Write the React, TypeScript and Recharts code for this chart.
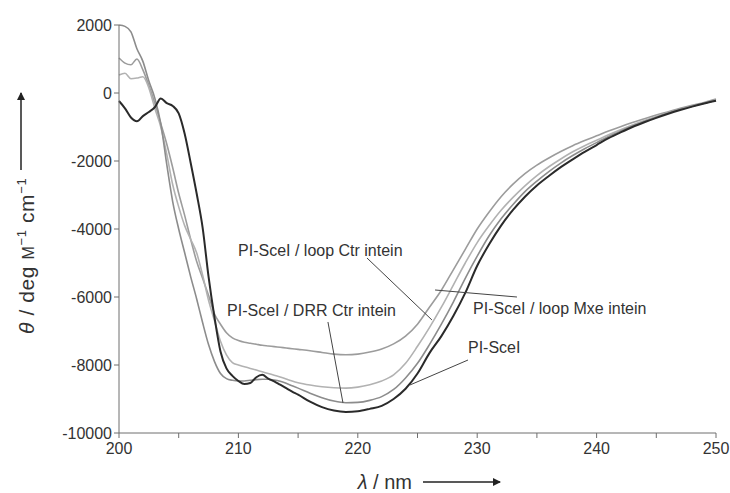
import React from 'react'
import {
  LineChart, Line, XAxis, YAxis, ReferenceLine, ReferenceDot,
} from 'recharts'

// wavelength in nm: 0.5 nm steps up to 215, then 1 nm
const WAVELENGTH = [
  200, 200.5, 201, 201.5, 202, 202.5, 203, 203.5, 204, 204.5, 205, 205.5, 206, 206.5, 207, 207.5,
  208, 208.5, 209, 209.5, 210, 210.5, 211, 211.5, 212, 212.5, 213, 213.5, 214, 214.5, 215,
  216, 217, 218, 219, 220, 221, 222, 223, 224, 225, 226, 227, 228, 229, 230, 231, 232, 233,
  234, 235, 236, 237, 238, 239, 240, 241, 242, 243, 244, 245, 246, 247, 248, 249, 250,
]

const PI_SCEI = [
  -235, -450, -720, -830, -680, -560, -420, -160, -300, -380, -600, -1200, -2050, -2950, -3950, -5400,
  -6600, -7600, -8100, -8320, -8470, -8560, -8530, -8360, -8290, -8400, -8480, -8580, -8680, -8780, -8870,
  -9080, -9240, -9340, -9380, -9360, -9290, -9200, -9000, -8700, -8250, -7650, -7150, -6560, -5880, -5080,
  -4450, -3900, -3440, -3050, -2720, -2440, -2180, -1950, -1730, -1530, -1330, -1160, -1000, -860, -730,
  -610, -500, -400, -310, -230,
]

const DRR_CTR = [
  2000, 1960, 1800, 1300, 930, 350, -150, -900, -2100, -3200, -4000, -4700, -5400, -6050, -6750, -7400,
  -7900, -8250, -8400, -8450, -8470, -8470, -8450, -8430, -8420, -8420, -8440, -8480, -8540, -8610, -8680,
  -8830, -8960, -9060, -9110, -9100, -9040, -8930, -8720, -8380, -7950, -7400, -6800, -6150, -5450, -4800,
  -4200, -3700, -3280, -2900, -2590, -2310, -2060, -1840, -1640, -1460, -1280, -1120, -970, -840, -710,
  -590, -480, -390, -300, -220,
]

const LOOP_CTR = [
  530, 580, 420, 440, 480, 150, -450, -1000, -1800, -2700, -3350, -3900, -4300, -4700, -5350, -6100,
  -6700, -7300, -7700, -7930, -8000, -8050, -8100, -8150, -8200, -8250, -8300, -8350, -8410, -8470, -8520,
  -8590, -8640, -8670, -8680, -8650, -8580, -8470, -8290, -7950, -7450, -6900, -6300, -5650, -5000, -4400,
  -3900, -3450, -3070, -2730, -2430, -2170, -1940, -1730, -1550, -1390, -1230, -1080, -940, -810, -690,
  -580, -480, -390, -300, -220,
]

const LOOP_MXE = [
  1030, 880, 830, 1000, 680, 220, -300, -900, -1500, -2200, -2950, -3600, -4300, -4950, -5450, -5950,
  -6500, -6800, -7050, -7200, -7280, -7330, -7360, -7390, -7420, -7440, -7460, -7480, -7500, -7520, -7540,
  -7580, -7630, -7680, -7700, -7680, -7620, -7530, -7380, -7150, -6800, -6300, -5800, -5200, -4600, -4000,
  -3500, -3050, -2680, -2370, -2120, -1910, -1720, -1550, -1400, -1260, -1120, -990, -870, -760, -650,
  -550, -450, -360, -280, -180,
]

const X_TICKS = [200, 205, 210, 215, 220, 225, 230, 235, 240, 245, 250]
const Y_TICKS = [-10000, -8000, -6000, -4000, -2000, 0, 2000]

// annotation labels (data coords of text start) and their leader lines
const LABELS = [
  { text: 'PI-SceI / loop Ctr intein', x: 209.97, y: -4617 },
  { text: 'PI-SceI / DRR Ctr intein', x: 209.05, y: -6382 },
  { text: 'PI-SceI / loop Mxe intein', x: 229.65, y: -6323 },
  { text: 'PI-SceI', x: 229.23, y: -7470 },
]
const LEADERS = [
  [{ x: 220.77, y: -4853 }, { x: 226.21, y: -6676 }],
  [{ x: 217.5, y: -6735 }, { x: 218.76, y: -9117 }],
  [{ x: 226.47, y: -5794 }, { x: 233.33, y: -6000 }],
  [{ x: 229.23, y: -7853 }, { x: 224.37, y: -8588 }],
]

const data = WAVELENGTH.map((w, i) => ({
  w,
  pi: PI_SCEI[i],
  drr: DRR_CTR[i],
  loopCtr: LOOP_CTR[i],
  loopMxe: LOOP_MXE[i],
}))

const FONT = '"Liberation Sans", Arial, sans-serif'
const AXIS = '#6e6e6e'
const TEXT = '#333'

const XTick = ({ x, y, payload }: any) => {
  if (payload.value % 10 !== 0) return null
  return (
    <text x={x} y={y + 14} textAnchor="middle" fontSize={16} fontFamily={FONT} fill={TEXT}>
      {payload.value}
    </text>
  )
}

export default function App() {
  return (
    <div style={{ position: 'absolute', left: 0, top: 0, width: 730, height: 493, background: '#fff' }}>
      <LineChart width={730} height={493} data={data} margin={{ top: 25, right: 14, left: 9, bottom: 20 }}>
        <XAxis
          dataKey="w" type="number" domain={[200, 250]} ticks={X_TICKS} interval={0}
          stroke={AXIS} tickSize={5} tick={<XTick />} height={40}
        />
        <YAxis
          type="number" domain={[-10000, 2000]} ticks={Y_TICKS} interval={0}
          stroke={AXIS} tickSize={5} width={110}
          tick={{ fontSize: 16, fontFamily: FONT, fill: TEXT }}
        />
        <Line dataKey="loopMxe" stroke="#9c9c9c" strokeWidth={1.6} dot={false} type="monotone" isAnimationActive={false} />
        <Line dataKey="loopCtr" stroke="#b2b2b2" strokeWidth={1.6} dot={false} type="monotone" isAnimationActive={false} />
        <Line dataKey="drr" stroke="#8c8c8c" strokeWidth={1.6} dot={false} type="monotone" isAnimationActive={false} />
        <Line dataKey="pi" stroke="#2a2a2a" strokeWidth={2} dot={false} type="monotone" isAnimationActive={false} />
        {LEADERS.map((seg, i) => (
          <ReferenceLine key={`l-${i}`} segment={seg} stroke="#444" strokeWidth={1} ifOverflow="visible" />
        ))}
        {LABELS.map((l, i) => (
          <ReferenceDot
            key={`t-${i}`} x={l.x} y={l.y} r={0} fill="none" stroke="none" ifOverflow="visible"
            label={(p: any) => (
              <text x={p.viewBox.x} y={p.viewBox.y + 6} fontSize={16} fontFamily={FONT} fill={TEXT}>
                {l.text}
              </text>
            )}
          />
        ))}
      </LineChart>

      {/* axis titles with arrows */}
      <svg width={730} height={493} style={{ position: 'absolute', left: 0, top: 0, pointerEvents: 'none' }}>
        <defs>
          <marker id="ah" markerWidth="8" markerHeight="8" refX="7" refY="4" orient="auto" markerUnits="userSpaceOnUse">
            <path d="M0,0 L8,4 L0,8 z" fill="#222" />
          </marker>
        </defs>
        <text transform="translate(34,334) rotate(-90)" fontSize={21} fontFamily={FONT} fill={TEXT} letterSpacing={0.6}>
          <tspan fontStyle="italic">θ</tspan>
          <tspan> / deg </tspan>
          <tspan fontSize={16}>M</tspan>
          <tspan fontSize={13} dy={-8}>−1</tspan>
          <tspan dy={8}> cm</tspan>
          <tspan fontSize={13} dy={-8}>−1</tspan>
        </text>
        <line x1={21} y1={170} x2={21} y2={93} stroke="#222" strokeWidth={1.5} markerEnd="url(#ah)" />
        <text x={412} y={489} textAnchor="end" fontSize={20} fontFamily={FONT} fill={TEXT}>
          <tspan fontStyle="italic">λ</tspan>
          <tspan> / nm</tspan>
        </text>
        <line x1={423} y1={482} x2={500} y2={482} stroke="#222" strokeWidth={1.5} markerEnd="url(#ah)" />
      </svg>
    </div>
  )
}
